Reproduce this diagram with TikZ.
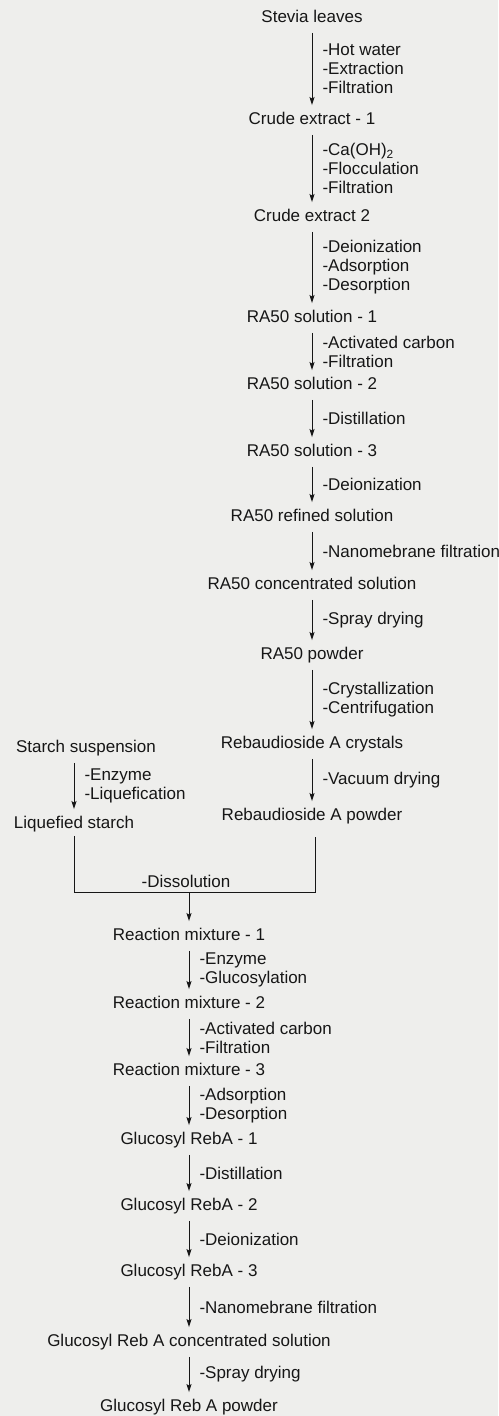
\documentclass[tikz,border=0pt]{standalone}
\usepackage{fontspec}
\setmainfont{Liberation Sans}
\usepackage{tikz}
\usetikzlibrary{arrows.meta}
\definecolor{scanbg}{RGB}{238,238,236}
\definecolor{ink}{RGB}{22,22,22}

\begin{document}
\begin{tikzpicture}[x=1pt,y=-1pt,
        font=\fontsize{17pt}{19pt}\selectfont,
        stage/.style={inner xsep=1pt, inner ysep=7pt, text height=12pt, text depth=3.5pt, text=ink},
        steplabel/.style={right=9pt, inner sep=1pt, align=left, text=ink},
        flow/.style={draw=ink, line width=1pt, -{Stealth[length=8pt,width=5pt,inset=1.5pt]}},
        joinline/.style={draw=ink, line width=1pt}]
        % Fondo y marco
        \fill[scanbg] (0,0) rectangle (498,1416);
        \useasboundingbox (0,0) rectangle (498,1416);
        % Columna principal: hojas de stevia
        \node[stage] (sl)  at (312,18)  {Stevia leaves};
        \node[stage] (ce1) at (312,120) {Crude extract - 1};
        \node[stage] (ce2) at (312,217) {Crude extract 2};
        \node[stage] (rs1) at (312,318) {RA50 solution - 1};
        \node[stage] (rs2) at (312,385) {RA50 solution - 2};
        \node[stage] (rs3) at (312,452) {RA50 solution - 3};
        \node[stage] (rrs) at (312,517) {RA50 refined solution};
        \node[stage] (rcs) at (312,585) {RA50 concentrated solution};
        \node[stage] (rp)  at (312,655) {RA50 powder};
        \node[stage] (rac) at (312,744) {Rebaudioside A crystals};
        \node[stage] (rap) at (312,816) {Rebaudioside A powder};
        % Columna izquierda: almidon
        \node[stage] (ss) at (86,748) {Starch suspension};
        \node[stage] (lq) at (74,824) {Liquefied starch};
        % Columna inferior: glucosilacion
        \node[stage] (rm1) at (189,936)  {Reaction mixture - 1};
        \node[stage] (rm2) at (189,1004) {Reaction mixture - 2};
        \node[stage] (rm3) at (189,1071) {Reaction mixture - 3};
        \node[stage] (g1)  at (189,1140) {Glucosyl RebA - 1};
        \node[stage] (g2)  at (189,1206) {Glucosyl RebA - 2};
        \node[stage] (g3)  at (189,1272) {Glucosyl RebA - 3};
        \node[stage] (gc)  at (189,1342) {Glucosyl Reb A concentrated solution};
        \node[stage] (gp)  at (189,1407) {Glucosyl Reb A powder};
        % Flechas de la columna principal
        \draw[flow] (sl) -- (ce1) node[midway, steplabel] {-Hot water\\-Extraction\\-Filtration};
        \draw[flow] (ce1) -- (ce2) node[midway, steplabel] {-Ca(OH)\textsubscript{2}\\-Flocculation\\-Filtration};
        \draw[flow] (ce2) -- (rs1) node[midway, steplabel] {-Deionization\\-Adsorption\\-Desorption};
        \draw[flow] (rs1) -- (rs2) node[midway, steplabel] {-Activated carbon\\-Filtration};
        \draw[flow] (rs2) -- (rs3) node[midway, steplabel] {-Distillation};
        \draw[flow] (rs3) -- (rrs) node[midway, steplabel] {-Deionization};
        \draw[flow] (rrs) -- (rcs) node[midway, steplabel] {-Nanomebrane filtration};
        \draw[flow] (rcs) -- (rp) node[midway, steplabel] {-Spray drying};
        \draw[flow] (rp) -- (rac) node[midway, steplabel] {-Crystallization\\-Centrifugation};
        \draw[flow] (rac) -- (rap) node[midway, steplabel] {-Vacuum drying};
        % Flecha del almidon
        \draw[flow] (lq |- ss.south) -- (lq) node[midway, steplabel] {-Enzyme\\-Liquefication};
        % Union de ambas ramas
        \coordinate (join) at (189,892);
        \draw[joinline] ([yshift=3pt]lq.south) -- (lq |- join) -- ([xshift=3pt]rap |- join) -- ([xshift=3pt,yshift=-6pt]rap.south);
        \node[above=3pt, inner sep=1pt, text=ink] (dis) at ([xshift=-3pt]join) {-Dissolution};
        \draw[flow] (join) -- (rm1);
        % Flechas de la columna inferior
        \draw[flow] (rm1) -- (rm2) node[midway, steplabel] {-Enzyme\\-Glucosylation};
        \draw[flow] (rm2) -- (rm3) node[midway, steplabel] {-Activated carbon\\-Filtration};
        \draw[flow] (rm3) -- (g1) node[midway, steplabel] {-Adsorption\\-Desorption};
        \draw[flow] (g1) -- (g2) node[midway, steplabel] {-Distillation};
        \draw[flow] (g2) -- (g3) node[midway, steplabel] {-Deionization};
        \draw[flow] (g3) -- (gc) node[midway, steplabel] {-Nanomebrane filtration};
        \draw[flow] (gc) -- (gp) node[midway, steplabel] {-Spray drying};
    \end{tikzpicture}
\end{document}
